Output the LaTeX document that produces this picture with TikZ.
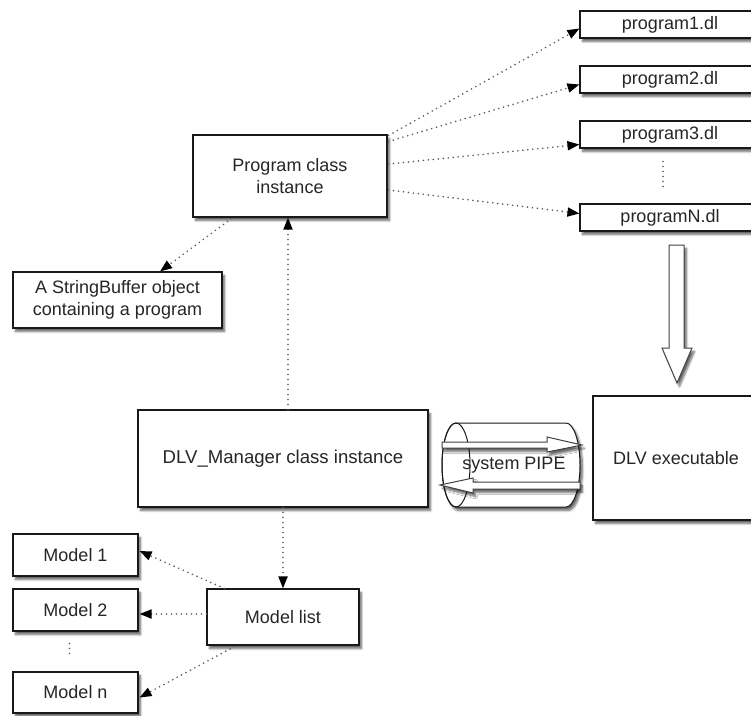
\documentclass[tikz,border=0pt]{standalone}
\usepackage{fontspec}
\setmainfont{Liberation Sans}
\usetikzlibrary{arrows.meta,shadows.blur,calc}
\begin{document}
\begin{tikzpicture}[x=1pt,y=-1pt,
  sh/.style={blur shadow={shadow xshift=2.5pt, shadow yshift=-3.5pt, shadow blur steps=6, shadow opacity=60}},
  box/.style={draw=black!90, line width=1.1pt, fill=white, inner sep=0pt, align=center,
     font=\fontsize{18}{22}\selectfont, text=black!85, sh},
  conn/.style={draw=black!65, line width=1.8pt, line cap=round, dash pattern=on 0pt off 5pt,
     -{Triangle[length=12pt,width=9pt,color=black]}},
  dots/.style={draw=black!65, line width=1.8pt, line cap=round, dash pattern=on 0pt off 5pt},
  hollow/.style={draw=black!75, line width=1pt, fill=white, line join=miter, sh}]
\useasboundingbox (0,0) rectangle (751,715);
\clip (0,0) rectangle (751,715);

% file boxes
\node[box, minimum width=180pt, minimum height=27pt] (p1) at (670,24.5) {program1.dl};
\node[box, minimum width=180pt, minimum height=27pt] (p2) at (670,79.5) {program2.dl};
\node[box, minimum width=180pt, minimum height=27pt] (p3) at (670,134.5) {program3.dl};
\node[box, minimum width=180pt, minimum height=27pt] (pn) at (670,217.5) {programN.dl};

% main boxes
\node[box, minimum width=194pt, minimum height=82pt] (prog) at (290,176) {Program class\\instance};
\node[box, minimum width=209pt, minimum height=56pt] (sb) at (117.5,300) {A StringBuffer object\\containing a program};
\node[box, minimum width=290pt, minimum height=97pt, font=\fontsize{18.6}{22}\selectfont] (dlvm) at (283,458.5) {DLV\_Manager class instance};
\node[box, minimum width=166pt, minimum height=124pt] (dlv) at (676,458) {DLV executable};
\node[box, minimum width=152pt, minimum height=56pt] (ml) at (283,617) {Model list};
\node[box, minimum width=125pt, minimum height=42pt] (m1) at (75.5,555) {Model 1};
\node[box, minimum width=125pt, minimum height=42pt] (m2) at (75.5,610) {Model 2};
\node[box, minimum width=125pt, minimum height=41pt] (mn) at (75.5,692.5) {Model n};

% big hollow arrow
\draw[hollow] (669,245) -- (684,245) -- (684,348) -- (692,348) -- (677,383) -- (662,348) -- (669,348) -- cycle;

% pipe cylinder
\draw[hollow, draw=black!90] (456,423) -- (566,423)
   arc[start angle=-90, end angle=90, x radius=14, y radius=42]
   -- (456,507)
   arc[start angle=90, end angle=270, x radius=14, y radius=42] -- cycle;
\draw[black!90, line width=1pt] (456,465) ellipse[x radius=14, y radius=42];
\draw[hollow] (442,442) -- (547,442) -- (547,437) -- (582,445) -- (547,452) -- (547,448) -- (442,448) -- cycle;
\draw[hollow] (440,485) -- (473,478) -- (473,482) -- (580,482) -- (580,489) -- (473,489) -- (473,493) -- cycle;
\node[font=\fontsize{18}{22}\selectfont, text=black!85, inner sep=0pt] (pipe) at (514,465) {system PIPE};

% connectors
\draw[conn] ($(prog.north east)+(1,1)$) -- ($(p1.west)+(0,4)$);
\draw[conn] ($(prog.north east)+(1,7)$) -- ($(p2.west)+(0,5)$);
\draw[conn] ($(prog.east)+(1,-12)$) -- ($(p3.west)+(0,10)$);
\draw[conn] ($(prog.east)+(1,14)$) -- ($(pn.west)+(0,-4)$);
\draw[dots] ($(p3.south)+(-7,13)$) -- ($(pn.north)+(-7,-16)$);
\draw[conn] ($(prog.south west)+(39,1)$) -- ($(sb.north)+(42.5,0)$);
\draw[conn] ($(dlvm.north)+(5,0)$) -- ($(prog.south)+(-2,0)$);
\draw[conn] (dlvm.south) -- (ml.north);
\draw[conn] ($(ml.north west)+(18,0)$) -- ($(m1.east)+(1,-4)$);
\draw[conn] ($(ml.west)+(0,-3)$) -- ($(m2.east)+(1,4)$);
\draw[conn] ($(ml.south west)+(28,1)$) -- ($(mn.east)+(1,5)$);
\draw[dots] ($(m2.south)+(-6,12)$) -- ($(mn.north)+(-6,-17)$);
\end{tikzpicture}
\end{document}
